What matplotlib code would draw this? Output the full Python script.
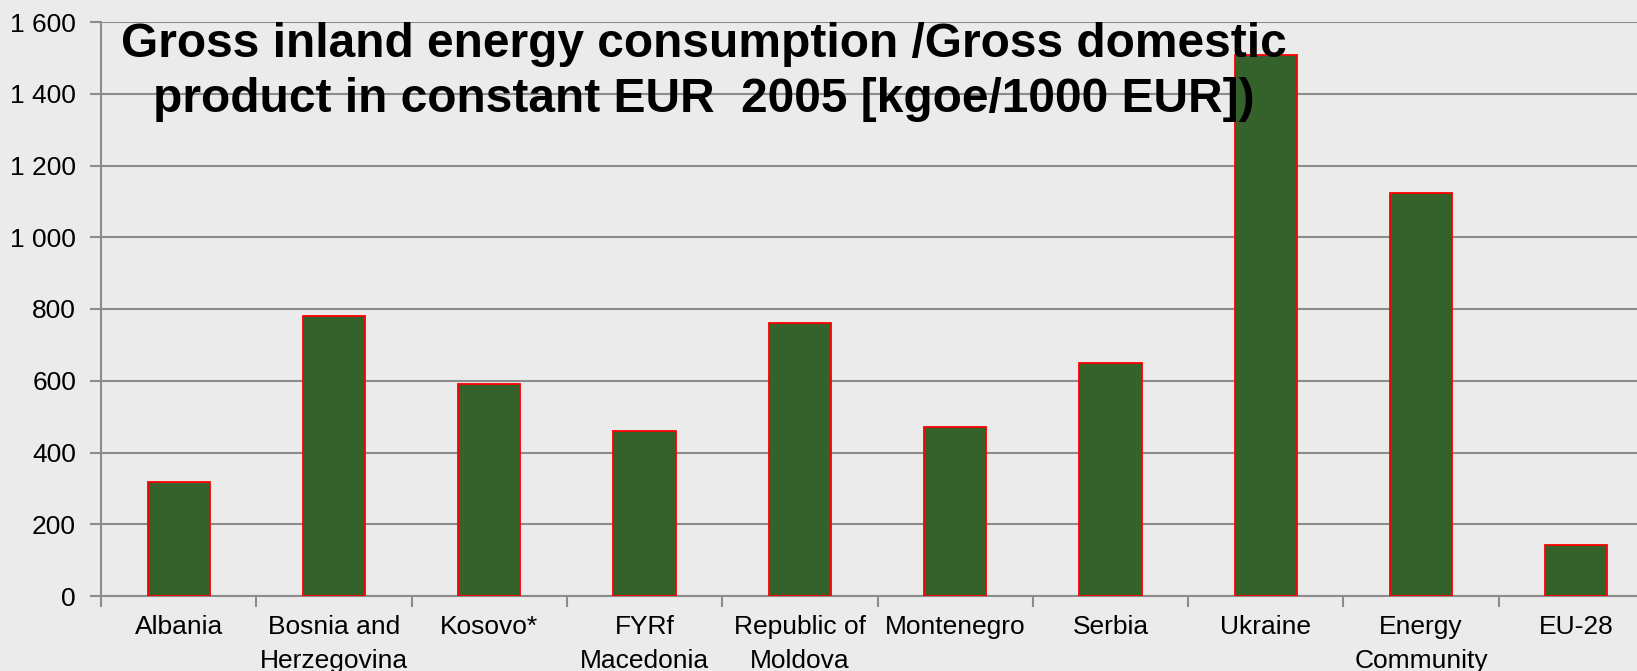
import numpy as np
import matplotlib
matplotlib.use("Agg")
import matplotlib.pyplot as plt

# ── data ──────────────────────────────────────────────────────────────────
categories = ["Albania", "Bosnia and\nHerzegovina", "Kosovo*", "FYRf\nMacedonia",
              "Republic of\nMoldova", "Montenegro", "Serbia", "Ukraine",
              "Energy\nCommunity", "EU-28"]
values = [317, 781, 592, 459, 762, 472, 649, 1508, 1122, 141]
y_ticks = [0, 200, 400, 600, 800, 1000, 1200, 1400, 1600]
y_tick_labels = ["0", "200", "400", "600", "800", "1 000", "1 200", "1 400", "1 600"]
title = ("Gross inland energy consumption /Gross domestic\n"
         "product in constant EUR  2005 [kgoe/1000 EUR])")

plt.rcParams["font.family"] = ["Liberation Sans", "DejaVu Sans"]

W, H = 1637, 671
bg = "#ebebeb"
grid_c = "#8c8c8c"

fig = plt.figure(figsize=(W / 100, H / 100), dpi=100, facecolor=bg)
# axes runs past the right edge of the picture (cropped in the original)
left, right, bottom, top = 101, 1654, 596, 22
ax = fig.add_axes([left / W, (H - bottom) / H, (right - left) / W, (bottom - top) / H])
ax.set_facecolor(bg)

x = np.arange(len(categories))
ax.bar(x, values, width=0.40, color="#35622b", edgecolor="#ff0000", linewidth=1.3,
       zorder=3)

ax.set_xlim(-0.5, len(categories) - 0.5)
ax.set_ylim(0, 1600)
ax.set_yticks(y_ticks)
ax.set_yticklabels(y_tick_labels, fontsize=19)
ax.yaxis.grid(True, color=grid_c, linewidth=1.5, zorder=1)
ax.tick_params(axis="y", length=8, width=1.5, color=grid_c, pad=10)

ax.set_xticks(x)
ax.set_xticklabels(categories, fontsize=19, linespacing=1.48)
ax.set_xticks(np.arange(len(categories) + 1) - 0.5, minor=True)
ax.tick_params(axis="x", which="major", length=0, pad=14)
ax.tick_params(axis="x", which="minor", length=8, width=1.5, color=grid_c)

for side in ["top", "right"]:
    ax.spines[side].set_visible(False)
for side in ["left", "bottom"]:
    ax.spines[side].set_color(grid_c)
    ax.spines[side].set_linewidth(1.5)

fig.text(704 / W, 1 - 22 / H, title, ha="center", va="top", fontsize=34.5,
         fontweight="bold", linespacing=1.3, zorder=5)

fig.savefig("out.png", dpi=100, facecolor=bg)
